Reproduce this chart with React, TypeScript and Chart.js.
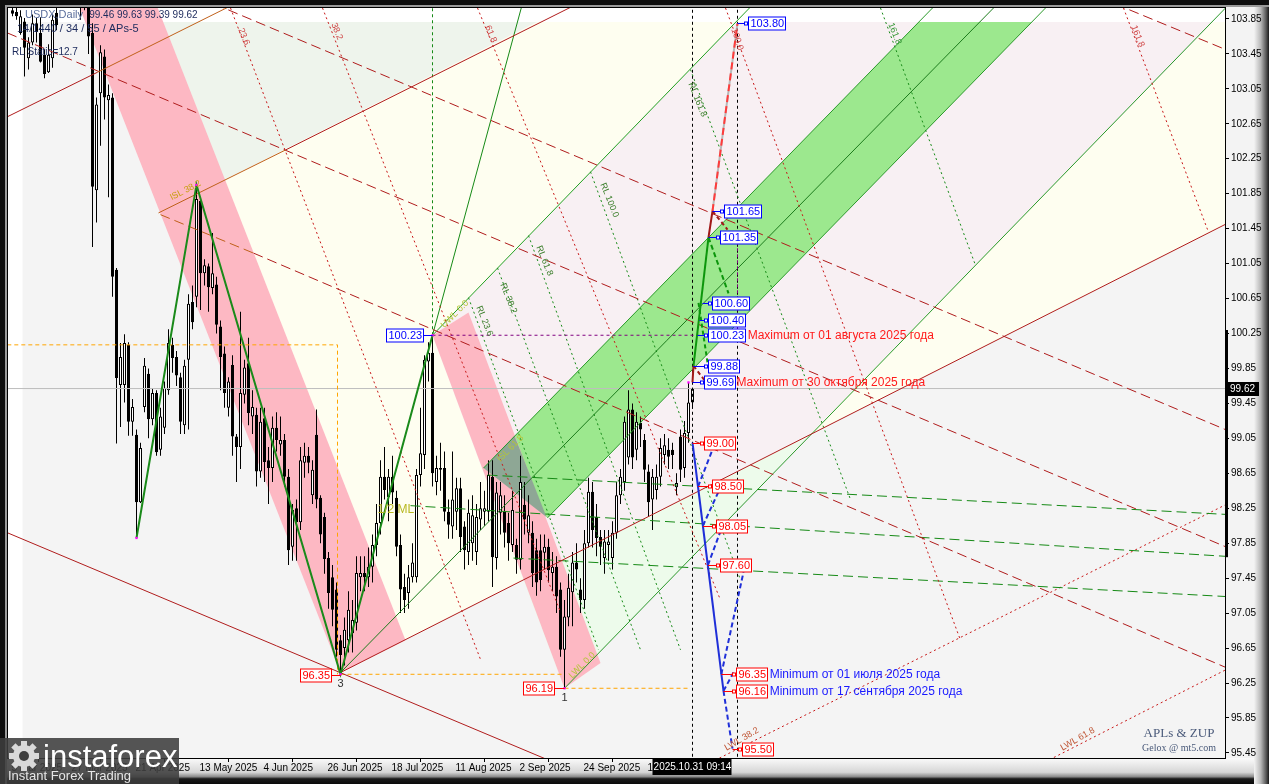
import React, { useEffect, useRef } from "react";
import { Chart, registerables } from "chart.js";

Chart.register(...registerables);

type Pt = [number, number];

const FONT = '"Liberation Sans", Arial, sans-serif';
const W = 1269;
const H = 784;

// ---------- axes (bar index 0 = 31 Oct 2025, price in index points) ----------
const X_MIN = -171.125;
const X_MAX = 133.125;
const Y_MIN = 95.392;
const Y_MAX = 103.975;

const yTickValues = [95.45, 95.85, 96.25, 96.65, 97.05, 97.45, 97.85, 98.25, 98.65, 99.05, 99.45, 99.85, 100.25, 100.65, 101.05, 101.45, 101.85, 102.25, 102.65, 103.05, 103.45, 103.85];
const xTickValues = [-171, -156, -140, -124, -108, -92, -76, -60, -44, -28, -12];
const xTickLabels = ["5 Mar 2025", "27 Mar 2025", "21 Apr 2025", "13 May 2025", "4 Jun 2025", "26 Jun 2025", "18 Jul 2025", "11 Aug 2025", "2 Sep 2025", "24 Sep 2025", "16 Oct 2025"];

// ---------- candles (USDX daily) ----------
const firstBarIndex = -170;
const opens = [
  103.95, 103.93, 103.69, 103.82, 103.40, 103.58, 103.80, 103.69, 103.44, 103.24,
  103.40, 103.92, 104.10, 104.25, 104.15, 104.30, 104.20, 104.10, 104.00, 104.10,
  103.69, 101.89, 103.00, 103.42, 102.92, 102.95, 100.98, 99.66, 99.66, 100.12,
  99.24, 99.09, 98.32, 99.41, 99.79, 99.27, 99.57, 98.92, 99.17, 99.60,
  100.12, 99.98, 99.75, 99.20, 99.95, 100.61, 100.67, 101.77, 100.94, 101.02,
  100.77, 100.81, 100.33, 100.02, 99.40, 99.89, 99.07, 98.95, 99.55, 99.91,
  99.30, 99.32, 98.67, 99.28, 98.80, 98.71, 99.17, 98.98, 99.03, 98.61,
  97.81, 98.25, 98.09, 98.77, 98.85, 98.40, 99.09, 98.37, 98.15, 97.68,
  97.46, 97.32, 96.74, 96.65, 96.74, 96.82, 96.94, 97.46, 97.51, 97.46,
  97.58, 97.83, 98.08, 98.61, 98.38, 98.61, 98.37, 97.83, 97.35, 97.28,
  97.46, 97.46, 98.63, 98.86, 99.93, 100.03, 98.55, 98.69, 98.71, 98.21,
  98.04, 98.21, 98.48, 98.04, 97.75, 97.85, 97.75, 98.12, 98.21, 98.21,
  98.61, 97.68, 98.20, 98.21, 98.08, 97.83, 97.83, 97.66, 98.29, 97.97,
  97.97, 97.77, 97.77, 97.74, 97.81, 97.51, 97.58, 97.32, 96.63, 97.00,
  97.29, 97.63, 97.32, 97.20, 97.85, 98.44, 98.15, 97.92, 97.68, 97.83,
  97.68, 97.97, 98.40, 98.55, 98.83, 99.38, 98.92, 99.23, 99.03, 98.67,
  98.35, 98.46, 98.61, 98.86, 98.92, 98.92, 98.49, 99.07, 98.71, 99.11,
  99.46,
];
const highs = [
  104.02, 104.03, 103.95, 103.86, 103.64, 103.90, 103.86, 103.87, 103.50, 103.56,
  103.90, 104.05, 104.40, 104.45, 104.50, 104.60, 104.40, 104.30, 104.35, 104.25,
  103.80, 102.95, 103.55, 103.50, 103.10, 103.00, 101.00, 100.14, 100.24, 100.15,
  99.50, 99.15, 99.00, 99.97, 99.85, 99.62, 99.60, 99.40, 99.70, 100.30,
  100.20, 100.05, 99.80, 99.95, 100.70, 100.80, 101.95, 101.80, 101.10, 101.05,
  101.40, 100.90, 100.40, 100.10, 99.75, 100.00, 99.10, 100.50, 99.95, 100.20,
  99.60, 99.40, 99.40, 99.40, 98.95, 99.30, 99.35, 99.30, 99.10, 98.70,
  98.30, 98.35, 98.95, 99.00, 98.95, 98.80, 99.38, 98.40, 98.20, 97.75,
  97.60, 97.40, 96.80, 97.00, 97.30, 97.20, 97.70, 97.70, 97.70, 97.80,
  97.95, 98.30, 98.80, 98.95, 98.70, 98.85, 98.45, 97.95, 97.50, 97.60,
  97.85, 98.70, 99.40, 100.00, 100.15, 100.23, 98.85, 99.00, 98.90, 98.35,
  98.90, 98.60, 98.60, 98.10, 98.35, 98.40, 98.30, 98.55, 98.45, 98.80,
  98.80, 98.55, 98.55, 98.40, 98.20, 98.45, 97.90, 98.85, 98.55, 98.40,
  98.10, 97.90, 97.95, 97.95, 97.90, 97.75, 97.70, 97.40, 97.20, 97.50,
  97.75, 97.85, 97.45, 98.00, 98.60, 98.55, 98.30, 98.00, 98.00, 98.00,
  98.10, 98.55, 98.70, 99.30, 99.60, 99.45, 99.35, 99.30, 99.10, 98.75,
  98.70, 98.75, 99.05, 99.10, 99.05, 99.00, 98.65, 99.15, 99.25, 99.69,
  99.63,
];
const lows = [
  103.88, 103.84, 103.67, 103.19, 103.27, 103.55, 103.58, 103.35, 103.17, 103.23,
  103.29, 103.72, 104.00, 104.05, 104.05, 104.10, 104.00, 103.84, 103.95, 103.45,
  101.24, 101.52, 102.40, 102.70, 101.81, 100.67, 98.99, 99.18, 99.46, 99.08,
  99.08, 97.91, 98.31, 99.35, 99.05, 99.20, 98.85, 98.85, 99.10, 99.55,
  99.80, 99.65, 99.10, 99.10, 99.15, 100.30, 100.55, 100.52, 100.80, 100.50,
  100.70, 100.25, 99.60, 99.40, 99.30, 98.85, 98.55, 98.70, 99.45, 99.20,
  99.10, 98.50, 98.60, 98.55, 98.30, 98.55, 98.90, 98.85, 98.50, 97.60,
  97.65, 97.65, 98.00, 98.60, 98.65, 98.30, 98.25, 97.85, 97.50, 97.10,
  96.90, 96.55, 96.35, 96.45, 96.60, 96.60, 96.85, 97.30, 97.30, 97.35,
  97.40, 97.70, 97.95, 98.35, 98.10, 98.30, 97.70, 97.05, 97.05, 97.10,
  97.40, 97.40, 98.50, 98.70, 99.70, 98.50, 98.40, 98.45, 98.10, 97.90,
  97.90, 98.00, 97.75, 97.55, 97.60, 97.65, 97.60, 98.00, 98.05, 98.10,
  97.35, 97.55, 97.95, 97.80, 97.65, 97.75, 97.50, 97.55, 97.95, 97.85,
  97.35, 97.25, 97.30, 97.55, 97.40, 97.30, 97.05, 96.55, 96.19, 96.90,
  96.90, 97.40, 97.05, 97.10, 97.80, 97.80, 97.70, 97.60, 97.50, 97.65,
  97.55, 97.90, 98.30, 98.45, 98.75, 98.70, 98.80, 98.95, 98.55, 98.15,
  98.00, 98.35, 98.50, 98.75, 98.70, 98.70, 98.40, 98.55, 98.60, 99.00,
  99.39,
];
const closes = [
  103.91, 103.88, 103.88, 103.52, 103.58, 103.80, 103.70, 103.36, 103.22, 103.44,
  103.84, 103.78, 104.25, 104.15, 104.30, 104.20, 104.10, 104.00, 104.15, 103.65,
  101.93, 102.87, 103.47, 102.95, 102.98, 100.90, 99.74, 99.98, 100.14, 99.24,
  99.41, 98.32, 98.94, 99.88, 99.27, 99.57, 98.89, 99.30, 99.63, 100.14,
  99.97, 99.77, 99.24, 99.88, 100.59, 100.38, 101.79, 100.94, 101.03, 100.78,
  100.94, 100.35, 99.98, 99.57, 99.70, 99.07, 98.95, 99.57, 99.86, 99.34,
  99.41, 98.67, 99.24, 98.78, 98.71, 99.17, 99.03, 99.03, 98.61, 97.77,
  98.23, 98.09, 98.80, 98.85, 98.77, 98.69, 98.35, 97.95, 97.67, 97.28,
  97.09, 96.63, 96.57, 96.86, 97.09, 96.97, 97.51, 97.51, 97.46, 97.58,
  97.83, 98.08, 98.61, 98.46, 98.61, 98.43, 97.81, 97.32, 97.20, 97.46,
  97.63, 98.63, 98.88, 99.95, 100.03, 98.65, 98.71, 98.71, 98.21, 98.06,
  98.35, 98.48, 97.92, 97.77, 98.20, 98.17, 98.15, 98.25, 98.25, 98.63,
  97.69, 98.43, 98.40, 97.97, 97.85, 98.23, 97.66, 98.55, 98.12, 98.17,
  97.51, 97.40, 97.43, 97.81, 97.54, 97.58, 97.24, 96.63, 97.01, 97.34,
  97.63, 97.55, 97.20, 97.85, 98.44, 98.00, 97.91, 97.81, 97.87, 97.87,
  97.97, 98.40, 98.61, 99.24, 99.38, 98.83, 99.24, 99.15, 98.69, 98.32,
  98.61, 98.61, 98.94, 98.97, 98.84, 98.86, 98.54, 98.69, 99.11, 99.46,
  99.62,
];

const lastPrice = 99.62;
const lastBarIndex = 0;
const lastBarTime = "2025.10.31 09:14";
const axisRangeMarker: Pt = [100.29, 97.69];

// ---------- background regions (bar index, price) ----------
const regionPaleGreenTop: Pt[] = [[-133.75, 103.975], [-117, 102.01], [-32, 103.975]];
const regionPaleYellowLeft: Pt[] = [[-117, 102.01], [-32, 103.975], [14.25, 103.975], [-65, 100.23], [-42.25, 97.43], [-88, 96.37]];
const regionPalePink: Pt[] = [[14.25, 103.975], [133.5, 103.975], [29.25, 99.09], [-42.25, 97.43], [-65, 100.23]];
const regionPaleGreenLow: Pt[] = [[-42.25, 97.43], [29.25, 99.09], [-32, 96.19]];
const regionPaleYellowRight: Pt[] = [[29.25, 99.09], [133.5, 103.975], [133.5, 101.5]];
const stripTop: Pt[] = [[-171.3, 103.98], [133.5, 103.98], [133.5, 103.815], [-171.3, 103.815]];
const stripLeft: Pt[] = [[-171.3, 95.38], [-167.5, 95.38], [-167.5, 103.98], [-171.3, 103.98]];
const channelGreen: Pt[] = [[-52.25, 98.71], [-36.25, 98.14], [88.25, 103.975], [60, 103.975]];
const channelOverlap: Pt[] = [[-52.25, 98.71], [-36.5, 98.15], [-44.5, 99.08]];
const bandPink1: Pt[] = [[-154, 104.07], [-134.5, 104.07], [-71.75, 96.74], [-88, 96.37]];
const bandPink2: Pt[] = [[-65, 100.23], [-56, 100.49], [-23, 96.48], [-32, 96.19]];

// ---------- lines ----------
const lineS1Red: Pt[] = [[-171.3, 102.73], [-148.75, 103.24]];
const lineS1Brown: Pt[] = [[-148.75, 103.24], [-111.5, 104.09]];
const lineS7Brown: Pt[] = [[-133.5, 101.63], [-101.75, 102.35]];
const lineS7Red: Pt[] = [[-101.75, 102.35], [-28, 104.04]];
const lineS3: Pt[] = [[-88, 96.37], [133.25, 101.5]];
const lineS9: Pt[] = [[-171.3, 97.97], [-33, 95.31]];
const dashA: Pt[] = [[-119.5, 104.02], [133.25, 99.15]];
const dashB: Pt[] = [[-171.3, 103.69], [133.25, 97.81]];
const dashCBrown: Pt[] = [[-133, 101.61], [-109.75, 101.17]];
const dashCRed: Pt[] = [[-109.75, 101.17], [133.25, 96.43]];
const dashD: Pt[] = [[105.75, 104.02], [133.25, 103.5]];
const dotR1: Pt[] = [[-115.5, 103.975], [-53, 96.52]];
const dotR2: Pt[] = [[-92.5, 103.975], [-33, 97.06]];
const dotR3: Pt[] = [[-53.75, 103.975], [7, 97.2]];
const dotR4: Pt[] = [[8.25, 103.975], [67, 96.74]];
const dotR5: Pt[] = [[107.75, 103.975], [128.75, 101.44]];
const dotG1: Pt[] = [[-56, 100.66], [-23.5, 96.63]];
const dotG2: Pt[] = [[-48.75, 101.0], [-13, 96.63]];
const dotG3: Pt[] = [[-41, 101.37], [-3, 96.63]];
const dotG4: Pt[] = [[-25.5, 102.1], [12, 97.43]];
const dotG5: Pt[] = [[-0.5, 103.27], [39.5, 98.35]];
const dotG6: Pt[] = [[47, 103.975], [70.75, 101.03]];
const lineT1: Pt[] = [[-65, 100.23], [16.25, 104.07]];
const lineUWL: Pt[] = [[-65, 100.23], [-42.25, 104.07]];
const vertUWL: Pt[] = [[-65, 100.23], [-65, 104.07]];
const lineMedian: Pt[] = [[-88, 96.37], [75.25, 103.975]];
const lineChanL: Pt[] = [[-52.25, 98.71], [60, 103.975]];
const lineChanR: Pt[] = [[-36.25, 98.14], [88.25, 103.975]];
const lineFromPivot1: Pt[] = [[-32, 96.19], [133.25, 103.975]];
const dashGreen1: Pt[] = [[-51.25, 98.63], [133.25, 98.18]];
const dashGreen2: Pt[] = [[-70.5, 98.28], [133.25, 97.7]];
const dashGreen3: Pt[] = [[-44.75, 97.68], [133.25, 97.24]];
const dotLow1: Pt[] = [[4.5, 95.34], [133.25, 98.29]];
const dotLow2: Pt[] = [[87, 95.32], [133.25, 96.4]];
const orangeA: Pt[] = [[-171.3, 100.12], [-88.75, 100.12], [-88.75, 96.35]];
const orangeB: Pt[] = [[-88, 96.35], [-32, 96.35]];
const orangeC: Pt[] = [[-32, 96.19], [-1, 96.19]];
const purpleH: Pt[] = [[-65, 100.23], [11.25, 100.23]];
const purpleV: Pt[] = [[11.25, 100.23], [11.25, 101.4]];
const timeLine1: Pt[] = [[0, 95.2], [0, 104.1]];
const timeLine2: Pt[] = [[11.25, 95.2], [11.25, 104.1]];
const bidLine: Pt[] = [[-171.3, 99.62], [133.5, 99.62]];
const zigzagPath: Pt[] = [[-139, 97.91], [-124, 101.95], [-88, 96.35], [-65, 100.23]];
const pivotDots: Pt[] = [[-139, 97.91], [-124, 101.95], [-88, 96.35], [-65, 100.23], [-32, 96.19], [-1, 99.69]];

// ---------- projections ----------
const projUpStart: Pt[] = [[0, 99.69], [0.25, 99.88]];
const projUpGreen: Pt[] = [[0.25, 99.88], [4, 101.35]];
const projUpMid: Pt[] = [[4, 101.35], [5, 101.65]];
const projUpRed: Pt[] = [[5, 101.65], [11.25, 103.8]];
const projUpGreenBack1: Pt[] = [[4, 101.35], [9, 100.71]];
const projUpGreenBack2: Pt[] = [[1.5, 100.6], [3.75, 99.92]];
const projUpRedBack1: Pt[] = [[5, 101.65], [8.75, 101.44]];
const projUpRedBack2: Pt[] = [[0.25, 99.88], [3.25, 99.7]];
const projDownBlue: Pt[] = [[0, 99.0], [7.75, 96.16]];
const projDownTail: Pt[] = [[7.75, 96.16], [10, 95.5]];
const projDownBacks: Pt[][] = [
  [[1.4, 98.5], [5.25, 98.95]],
  [[2.6, 98.05], [7, 98.49]],
  [[3.85, 97.6], [7.75, 98.08]],
  [[7.2, 96.35], [12.75, 97.52]],
  [[7.75, 96.16], [10.25, 96.37]],
];

// ---------- labels ----------
const blueTargets = [
  { text: "103.80", price: 103.8, from: 11.25, at: 13.9 },
  { text: "101.65", price: 101.65, from: 5, at: 7.8 },
  { text: "101.35", price: 101.35, from: 4, at: 6.75 },
  { text: "100.60", price: 100.6, from: 2.5, at: 4.75 },
  { text: "100.40", price: 100.4, from: 1.75, at: 3.8 },
  { text: "100.23", price: 100.23, from: 1.25, at: 3.8 },
  { text: "99.88", price: 99.88, from: 0.25, at: 3.8 },
  { text: "99.69", price: 99.69, from: 0, at: 2.8 },
];
const redTargets = [
  { text: "99.00", price: 99.0, from: 0, at: 2.8 },
  { text: "98.50", price: 98.5, from: 1.4, at: 4.9 },
  { text: "98.05", price: 98.05, from: 2.6, at: 5.75 },
  { text: "97.60", price: 97.6, from: 3.85, at: 6.8 },
  { text: "96.35", price: 96.35, from: 7.2, at: 10.9 },
  { text: "96.16", price: 96.16, from: 7.75, at: 10.9 },
  { text: "95.50", price: 95.5, from: 10, at: 12.4 },
];
const pivotBoxes = [
  { text: "100.23", price: 100.23, from: -65, at: -67.3, color: "#0000ff" },
  { text: "96.35", price: 96.34, from: -88, at: -90.5, color: "#ff0000" },
  { text: "96.19", price: 96.19, from: -32, at: -34.7, color: "#ff0000" },
];
const noteTexts = [
  { text: "Maximum от 01 августа 2025 года", i: 13.8, price: 100.23, color: "#ff1a1a" },
  { text: "Maximum от 30 октября 2025 года", i: 11, price: 99.69, color: "#ff1a1a" },
  { text: "Minimum от 01 июля 2025 года", i: 19.3, price: 96.35, color: "#1a1aff" },
  { text: "Minimum от 17 сентября 2025 года", i: 19.3, price: 96.16, color: "#1a1aff" },
];
const pivotNumbers = [
  { text: "3", i: -88, price: 96.35 },
  { text: "1", i: -32, price: 96.19 },
];
const levelTags = [
  { text: "23.6", i: -113, price: 103.74, angle: 68, color: "#d04848" },
  { text: "38.2", i: -89.75, price: 103.8, angle: 68, color: "#d04848" },
  { text: "61.8", i: -51.25, price: 103.77, angle: 68, color: "#d04848" },
  { text: "100.0", i: 10.3, price: 103.74, angle: 72, color: "#d04848" },
  { text: "161.8", i: 110.25, price: 103.77, angle: 68, color: "#d04848" },
  { text: "161.8", i: 49.5, price: 103.8, angle: 68, color: "#3a9a3a" },
  { text: "RL 161.8", i: -0.5, price: 103.12, angle: 68, color: "#3c7f2c" },
  { text: "RL 100.0", i: -22.5, price: 101.97, angle: 68, color: "#3c7f2c" },
  { text: "RL 61.8", i: -38.5, price: 101.25, angle: 68, color: "#3c7f2c" },
  { text: "RL 38.2", i: -47.5, price: 100.82, angle: 68, color: "#3c7f2c" },
  { text: "RL 23.6", i: -53.5, price: 100.56, angle: 68, color: "#3c7f2c" },
  { text: "UWL 0.0", i: -62.5, price: 100.33, angle: -45, color: "#b4c43a" },
  { text: "ISL 38.2", i: -130.5, price: 101.8, angle: -27, color: "#c8a010" },
  { text: "ISL 61.8", i: -48.5, price: 98.8, angle: -45, color: "#b4c43a" },
  { text: "LWL 0.0", i: -30.5, price: 96.32, angle: -45, color: "#b4c43a" },
  { text: "LWL 38.2", i: 8.2, price: 95.5, angle: -30, color: "#c05838" },
  { text: "LWL 61.8", i: 92.2, price: 95.5, angle: -30, color: "#c05838" },
  { text: "1/2 ML", i: -78.75, price: 98.23, angle: 0, color: "#b8b820" },
];
const headerTitle = "USDX,Daily";
const headerQuote = "99.46 99.63 99.39 99.62";
const headerLine2 = "14/1440 / 34 / 55 / APs-5";
const headerLine3 = "RL Static=12.7";
const signature1 = "APLs & ZUP";
const signature2 = "Gelox @ mt5.com";

// ---------- dataset helpers ----------
const toXY = (a: Pt[]) => a.map(([x, y]) => ({ x, y }));
const region = (a: Pt[], color: string, order: number) => ({
  type: "line",
  data: toXY(a),
  fill: "shape",
  backgroundColor: color,
  borderWidth: 0,
  borderColor: "rgba(0,0,0,0)",
  pointRadius: 0,
  pointHoverRadius: 0,
  tension: 0,
  order,
});
const seg = (a: Pt[], color: string, width: number, dash: number[], order = 100) => ({
  type: "line",
  data: toXY(a),
  fill: false,
  borderColor: color,
  backgroundColor: color,
  borderWidth: width,
  borderDash: dash,
  borderCapStyle: "butt",
  pointRadius: 0,
  pointHoverRadius: 0,
  tension: 0,
  order,
});

const DARKRED = "#b01c1c";
const BROWN = "#c0601a";
const GREEN = "#168a16";
const LONG = [10, 5];
const DOT = [2, 3];

function buildDatasets() {
  const ds: any[] = [];
  ds.push(region(regionPaleGreenTop, "#eef4ec", 400));
  ds.push(region(regionPaleYellowLeft, "#fefef0", 400));
  ds.push(region(regionPalePink, "#f8f0f3", 400));
  ds.push(region(regionPaleGreenLow, "#edfbeb", 400));
  ds.push(region(regionPaleYellowRight, "#fefef0", 400));
  ds.push(region(channelGreen, "#9ce88e", 385));
  ds.push(region(stripTop, "#ffffff", 382));
  ds.push(region(stripLeft, "#ffffff", 382));
  ds.push(region(bandPink1, "#fdb8c3", 380));
  ds.push(region(bandPink2, "#fdb8c3", 380));
  ds.push(region(channelOverlap, "#8ea795", 370));

  const wickData = highs.map((h, k) => ({ x: firstBarIndex + k, y: [lows[k], h] }));
  const bodyData = opens.map((o, k) => ({ x: firstBarIndex + k, y: [o, closes[k]] }));
  const bodyColors = opens.map((o, k) => (closes[k] >= o ? "#ffffff" : "#000000"));
  ds.push({ type: "bar", data: wickData, backgroundColor: "#000000", borderWidth: 0, barThickness: 1, grouped: false, inflateAmount: 0, order: 300 });
  ds.push({ type: "bar", data: bodyData, backgroundColor: bodyColors, borderColor: "#000000", borderWidth: 1, borderSkipped: false, barThickness: 3, grouped: false, inflateAmount: 0, minBarLength: 1, order: 290 });

  ds.push(seg(bidLine, "#bdbdbd", 1, [], 120));
  ds.push(seg(lineS1Red, DARKRED, 1, []));
  ds.push(seg(lineS1Brown, BROWN, 1, []));
  ds.push(seg(lineS7Brown, BROWN, 1, []));
  ds.push(seg(lineS7Red, DARKRED, 1, []));
  ds.push(seg(lineS3, DARKRED, 1, []));
  ds.push(seg(lineS9, DARKRED, 1, []));
  ds.push(seg(dashA, DARKRED, 1, LONG));
  ds.push(seg(dashB, DARKRED, 1, LONG));
  ds.push(seg(dashCBrown, BROWN, 1, LONG));
  ds.push(seg(dashCRed, DARKRED, 1, LONG));
  ds.push(seg(dashD, DARKRED, 1, LONG));
  for (const r of [dotR1, dotR2, dotR3, dotR4, dotR5]) ds.push(seg(r, "#c81818", 1, DOT));
  for (const g of [dotG1, dotG2, dotG3, dotG4, dotG5, dotG6]) ds.push(seg(g, GREEN, 1, DOT));
  ds.push(seg(lineT1, "#22a022", 1, []));
  ds.push(seg(lineUWL, GREEN, 1, []));
  ds.push(seg(vertUWL, GREEN, 1, [3, 3]));
  ds.push(seg(lineMedian, "#1c7c1c", 1, []));
  ds.push(seg(lineChanL, "#2a9a2a", 1, []));
  ds.push(seg(lineChanR, "#2a9a2a", 1, []));
  ds.push(seg(lineFromPivot1, "#2a9a2a", 1, []));
  ds.push(seg(dashGreen1, GREEN, 1, LONG));
  ds.push(seg(dashGreen2, GREEN, 1, LONG));
  ds.push(seg(dashGreen3, GREEN, 1, LONG));
  ds.push(seg(dotLow1, "#c81818", 1, DOT));
  ds.push(seg(dotLow2, "#c81818", 1, DOT));
  ds.push(seg(orangeA, "#ffa500", 1, [4, 3]));
  ds.push(seg(orangeB, "#ffa500", 1, [4, 3]));
  ds.push(seg(orangeC, "#ffa500", 1, [4, 3]));
  ds.push(seg(timeLine1, "#000000", 1, [3, 3]));
  ds.push(seg(timeLine2, "#000000", 1, [3, 3]));
  ds.push(seg(purpleH, "#800080", 1, [3, 3], 90));
  ds.push(seg(purpleV, "#800080", 1, [3, 3], 90));

  ds.push(seg(zigzagPath, "#1a8a1a", 2, [], 60));

  ds.push(seg(projUpStart, "#a01818", 2, [], 50));
  ds.push(seg(projUpGreen, "#0c960c", 2, [], 50));
  ds.push(seg(projUpMid, "#a01818", 2, [], 50));
  ds.push(seg(projUpRed, "#b8b8b8", 2, [], 52));
  ds.push(seg(projUpRed, "#ff3b3b", 2, [7, 4], 51));
  ds.push(seg(projUpGreenBack1, "#0c960c", 2, [5, 3], 50));
  ds.push(seg(projUpGreenBack2, "#0c960c", 2, [4, 3], 50));
  ds.push(seg(projUpRedBack1, "#a01818", 2, [4, 3], 50));
  ds.push(seg(projUpRedBack2, "#a01818", 2, [4, 3], 50));
  ds.push(seg(projDownBlue, "#1f2fd8", 2, [], 50));
  ds.push(seg(projDownTail, "#1f2fd8", 2, [5, 3], 50));
  for (const b of projDownBacks) ds.push(seg(b, "#1f2fd8", 2, [5, 3], 50));

  ds.push({
    type: "line",
    data: toXY(pivotDots),
    showLine: false,
    pointStyle: "rect",
    pointRadius: 1.6,
    pointBackgroundColor: "#ff00ff",
    pointBorderColor: "#ff00ff",
    pointBorderWidth: 0,
    order: 10,
  });
  return ds;
}

function boxLabel(ctx: CanvasRenderingContext2D, xs: any, ys: any, lab: any, color: string, leftSide: boolean) {
  const py = Math.round(ys.getPixelForValue(lab.price)) + 0.5;
  const pa = xs.getPixelForValue(lab.from);
  const pb = Math.round(xs.getPixelForValue(lab.at)) + 0.5;
  ctx.font = `11px ${FONT}`;
  const tw = ctx.measureText(lab.text).width;
  const bw = Math.round(tw + 3);
  const bh = 13;
  ctx.setLineDash([]);
  ctx.lineWidth = 1;
  ctx.strokeStyle = color;
  ctx.textBaseline = "middle";
  ctx.textAlign = "left";
  if (!leftSide) {
    ctx.beginPath();
    ctx.moveTo(pa, py);
    ctx.lineTo(pb - 4, py);
    ctx.stroke();
    ctx.fillStyle = "#ffffff";
    ctx.fillRect(pb - 4, py - 1.5, 3, 3);
    ctx.strokeRect(pb - 4, py - 1.5, 3, 3);
    ctx.fillRect(pb, py - bh / 2, bw, bh);
    ctx.strokeRect(pb, py - bh / 2, bw, bh);
    ctx.fillStyle = color;
    ctx.fillText(lab.text, pb + 2, py + 0.5);
  } else {
    ctx.beginPath();
    ctx.moveTo(pb, py);
    ctx.lineTo(pa, py);
    ctx.stroke();
    ctx.fillStyle = "#ffffff";
    ctx.fillRect(pb - bw, py - bh / 2, bw, bh);
    ctx.strokeRect(pb - bw, py - bh / 2, bw, bh);
    ctx.fillStyle = color;
    ctx.fillText(lab.text, pb - bw + 2, py + 0.5);
  }
}

const decorPlugin = {
  id: "decor",
  beforeDraw(chart: any) {
    const { ctx, chartArea: a } = chart;
    ctx.save();
    ctx.fillStyle = "#f3f3f3";
    ctx.fillRect(0, 0, W, H);
    const gb = ctx.createLinearGradient(0, a.bottom, 0, H);
    gb.addColorStop(0, "#fbfbfb");
    gb.addColorStop(0.55, "#d6d6d6");
    gb.addColorStop(0.72, "#8a8a8a");
    gb.addColorStop(0.8, "#1a1a1a");
    gb.addColorStop(1, "#0a0a0a");
    ctx.fillStyle = gb;
    ctx.fillRect(0, a.bottom, W, H - a.bottom);
    const gr = ctx.createLinearGradient(1254, 0, W, 0);
    gr.addColorStop(0, "#f3f3f3");
    gr.addColorStop(0.45, "#b8b8b8");
    gr.addColorStop(0.8, "#5a5a5a");
    gr.addColorStop(1, "#1a1a1a");
    ctx.fillStyle = gr;
    ctx.fillRect(1254, 0, W - 1254, H);
    ctx.fillStyle = "#0e0e0e";
    ctx.fillRect(0, 0, W, 5);
    ctx.fillRect(0, 0, 5, H);
    ctx.fillStyle = "#9a9a9a";
    ctx.fillRect(5, 5, W - 5, 2);
    ctx.fillRect(5, 5, 2, H - 5);
    ctx.fillStyle = "#f4f4f4";
    ctx.fillRect(a.left, a.top, a.right - a.left, a.bottom - a.top);
    ctx.restore();
  },
  afterDatasetsDraw(chart: any) {
    const { ctx, chartArea: a } = chart;
    const xs = chart.scales.x;
    const ys = chart.scales.y;
    ctx.save();
    ctx.beginPath();
    ctx.rect(a.left, a.top, a.right - a.left, a.bottom - a.top);
    ctx.clip();

    for (const t of levelTags) {
      const px = xs.getPixelForValue(t.i);
      const py = ys.getPixelForValue(t.price);
      ctx.save();
      ctx.translate(px, py);
      ctx.rotate((t.angle * Math.PI) / 180);
      ctx.font = t.text === "1/2 ML" ? `12px ${FONT}` : `9px ${FONT}`;
      ctx.fillStyle = t.color;
      ctx.textAlign = "left";
      ctx.textBaseline = "middle";
      ctx.fillText(t.text, 0, 0);
      ctx.restore();
    }

    for (const lab of blueTargets) boxLabel(ctx, xs, ys, lab, "#0000ff", false);
    for (const lab of redTargets) boxLabel(ctx, xs, ys, lab, "#ff0000", false);
    for (const lab of pivotBoxes) boxLabel(ctx, xs, ys, lab, lab.color, true);

    ctx.font = `12px ${FONT}`;
    ctx.textAlign = "left";
    ctx.textBaseline = "middle";
    for (const n of noteTexts) {
      ctx.fillStyle = n.color;
      ctx.fillText(n.text, xs.getPixelForValue(n.i), ys.getPixelForValue(n.price) + 0.5);
    }
    ctx.font = `11px ${FONT}`;
    ctx.textAlign = "center";
    ctx.fillStyle = "#303030";
    for (const n of pivotNumbers) {
      ctx.fillText(n.text, xs.getPixelForValue(n.i), ys.getPixelForValue(n.price) + 10);
    }

    ctx.textAlign = "left";
    ctx.textBaseline = "middle";
    ctx.font = `11px ${FONT}`;
    ctx.fillStyle = "#5b6f9c";
    ctx.fillText(headerTitle, 25, 15);
    const tw = ctx.measureText(headerTitle + "  ").width;
    ctx.fillStyle = "#1c2a5c";
    ctx.font = `10px ${FONT}`;
    ctx.fillText(headerQuote, 25 + tw, 15);
    ctx.font = `11px ${FONT}`;
    ctx.fillText(headerLine2, 17, 29);
    ctx.font = `10px ${FONT}`;
    ctx.fillText(headerLine3, 12, 52);

    ctx.textAlign = "center";
    ctx.fillStyle = "#4a5a7a";
    ctx.font = `13px "Liberation Serif", serif`;
    ctx.fillText(signature1, 1179, 734);
    ctx.font = `10px "Liberation Serif", serif`;
    ctx.fillText(signature2, 1179, 748);
    ctx.restore();
  },
  afterDraw(chart: any) {
    const { ctx, chartArea: a } = chart;
    const xs = chart.scales.x;
    const ys = chart.scales.y;
    ctx.save();
    ctx.strokeStyle = "#000000";
    ctx.lineWidth = 1;
    ctx.setLineDash([]);
    ctx.strokeRect(a.left - 0.5, a.top - 0.5, a.right - a.left + 1, a.bottom - a.top + 1);
    const y1 = ys.getPixelForValue(axisRangeMarker[0]);
    const y2 = ys.getPixelForValue(axisRangeMarker[1]);
    ctx.fillStyle = "#000000";
    ctx.fillRect(a.right, y1, 3, y2 - y1);
    const py = Math.round(ys.getPixelForValue(lastPrice));
    ctx.fillRect(a.right, py - 7, 34, 14);
    ctx.fillStyle = "#ffffff";
    ctx.font = `10px ${FONT}`;
    ctx.textAlign = "left";
    ctx.textBaseline = "middle";
    ctx.fillText(lastPrice.toFixed(2), a.right + 5, py + 0.5);
    const tx = xs.getPixelForValue(lastBarIndex);
    ctx.fillStyle = "#000000";
    ctx.fillRect(tx - 40, a.bottom + 1, 79, 16);
    ctx.fillStyle = "#ffffff";
    ctx.textAlign = "center";
    ctx.fillText(lastBarTime, tx, a.bottom + 9.5);
    ctx.fillStyle = "rgba(62,62,62,0.88)";
    ctx.fillRect(0, 738, 179, 46);
    const gx = 24;
    const gy = 756;
    ctx.fillStyle = "#d9d9d9";
    for (let k = 0; k < 8; k++) {
      ctx.save();
      ctx.translate(gx, gy);
      ctx.rotate((k * Math.PI) / 4);
      ctx.fillRect(-3, -15, 6, 6);
      ctx.restore();
    }
    ctx.beginPath();
    ctx.arc(gx, gy, 11, 0, Math.PI * 2);
    ctx.fill();
    ctx.fillStyle = "#3e3e3e";
    ctx.beginPath();
    ctx.arc(gx, gy, 5, 0, Math.PI * 2);
    ctx.fill();
    ctx.fillStyle = "#ffffff";
    ctx.textAlign = "left";
    ctx.textBaseline = "alphabetic";
    ctx.font = `31px ${FONT}`;
    ctx.fillText("instaforex", 43, 767);
    ctx.fillStyle = "#e6e6e6";
    ctx.font = `13px ${FONT}`;
    ctx.fillText("Instant Forex Trading", 8, 780);
    ctx.restore();
  },
};

export default function App() {
  const ref = useRef<HTMLCanvasElement | null>(null);
  useEffect(() => {
    const canvas = ref.current;
    if (!canvas) return;
    const chart = new Chart(canvas, {
      type: "line",
      data: { datasets: buildDatasets() },
      options: {
        responsive: false,
        animation: false,
        devicePixelRatio: 1,
        events: [],
        layout: { padding: { left: 8, top: 8, right: 7, bottom: 6 }, autoPadding: false },
        plugins: { legend: { display: false }, tooltip: { enabled: false } },
        scales: {
          x: {
            type: "linear",
            min: X_MIN,
            max: X_MAX,
            offset: false,
            afterBuildTicks: (axis: any) => {
              axis.ticks = xTickValues.map((v) => ({ value: v }));
            },
            afterFit: (axis: any) => {
              axis.height = 20;
            },
            grid: { display: true, drawOnChartArea: false, drawTicks: true, tickLength: 4, color: "#000000" },
            border: { display: true, color: "#000000" },
            ticks: {
              autoSkip: false,
              maxRotation: 0,
              minRotation: 0,
              align: "start",
              labelOffset: 3,
              padding: 0,
              color: "#000000",
              font: { family: "Liberation Sans", size: 10 },
              callback: (v: any) => {
                const k = xTickValues.indexOf(Number(v));
                return k >= 0 ? xTickLabels[k] : "";
              },
            },
          },
          y: {
            type: "linear",
            position: "right",
            min: Y_MIN,
            max: Y_MAX,
            afterBuildTicks: (axis: any) => {
              axis.ticks = yTickValues.map((v) => ({ value: v }));
            },
            afterFit: (axis: any) => {
              axis.width = 37;
            },
            grid: { display: true, drawOnChartArea: false, drawTicks: true, tickLength: 4, color: "#000000" },
            border: { display: true, color: "#000000" },
            ticks: {
              autoSkip: false,
              padding: 2,
              color: "#000000",
              font: { family: "Liberation Sans", size: 10 },
              callback: (v: any) => Number(v).toFixed(2),
            },
          },
        },
      } as any,
      plugins: [decorPlugin as any],
    } as any);
    return () => chart.destroy();
  }, []);
  return (
    <div style={{ position: "fixed", left: 0, top: 0, width: W, height: H, background: "#111" }}>
      <canvas ref={ref} width={W} height={H} style={{ display: "block", width: W, height: H }} />
    </div>
  );
}
